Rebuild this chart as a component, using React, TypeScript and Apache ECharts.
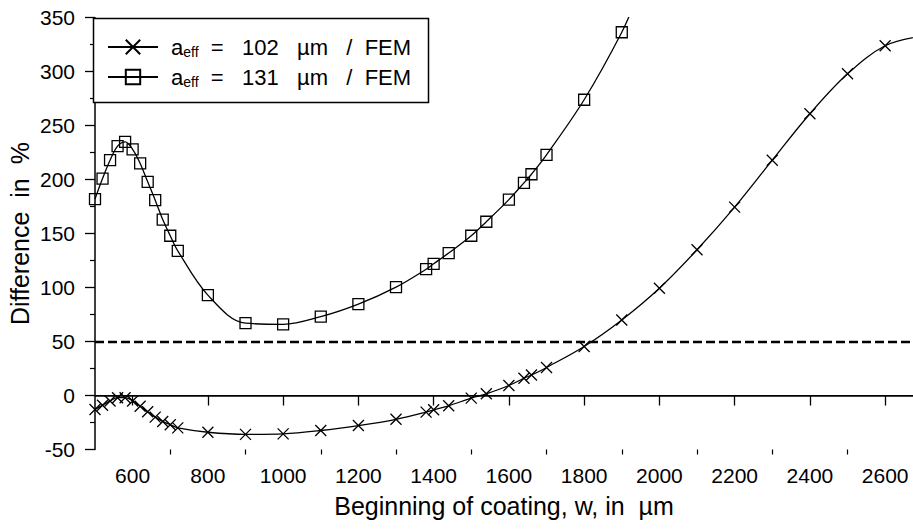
import React, { useEffect, useRef } from "react";
import * as echarts from "echarts";

// Beginning of coating w (µm) and the difference in % for each effective size
const w102 = [500, 520, 540, 560, 580, 600, 620, 640, 660, 680, 700, 720, 800, 900, 1000, 1100, 1200, 1300, 1380, 1400, 1440, 1500, 1540, 1600, 1640, 1660, 1700, 1800, 1900, 2000, 2100, 2200, 2300, 2400, 2500, 2600];
const diff102 = [-13, -9, -5, -2, -2, -5, -10, -15, -20, -24, -27, -30, -34, -36, -35.5, -32.4, -27.8, -22, -15.4, -13.2, -9.5, -2.4, 1.6, 9.3, 16, 19, 26, 45.4, 70, 99.4, 135, 174.5, 218, 261, 298, 324];

const w131 = [500, 520, 540, 560, 580, 600, 620, 640, 660, 680, 700, 720, 800, 900, 1000, 1100, 1200, 1300, 1380, 1400, 1440, 1500, 1540, 1600, 1640, 1660, 1700, 1800, 1900];
const diff131 = [182, 201, 218, 231, 235, 228, 215, 198, 181, 163, 148, 134, 93, 67, 66, 73, 84.6, 100.4, 117, 122, 132, 148, 161, 181.5, 197, 205, 223, 274, 336.5];

// where each fitted curve leaves the plot (drawn without a marker)
const tail102 = [2700, 333];
const tail131 = [1940, 369];

const sizes = ["102", "131"];
const thresholdLine = 50;
const zeroLine = 0;

const xMajorTicks = [600, 800, 1000, 1200, 1400, 1600, 1800, 2000, 2200, 2400, 2600];
const xMinorTicks = [700, 900, 1100, 1300, 1500, 1700, 1900, 2100, 2300, 2500];

const FONT = "'Liberation Sans', Arial, Helvetica, sans-serif";
const CROSS = "path://M0,0L10,10M10,0L0,10";

const seriesName = (s: string) => `a_eff = ${s} µm / FEM`;

function pairs(xs: number[], ys: number[]) {
  return xs.map((x, i) => [x, ys[i]]);
}

export default function App() {
  const ref = useRef<HTMLDivElement>(null);

  useEffect(() => {
    if (!ref.current) return;
    const chart = echarts.init(ref.current, undefined, { renderer: "svg" });

    const markerStyle = {
      color: "rgba(0,0,0,0)",
      borderColor: "#000",
      borderWidth: 1.3,
    };

    chart.setOption({
      animation: false,
      backgroundColor: "#fff",
      textStyle: { fontFamily: FONT, color: "#000" },
      grid: {
        left: 95,
        right: 0,
        top: 17.7,
        bottom: 79.5,
        containLabel: false,
        outerBoundsMode: "none",
      },
      xAxis: [
        {
          type: "value",
          min: 500,
          max: 2674,
          position: "bottom",
          name: "Beginning of coating, w, in  µm",
          nameLocation: "middle",
          nameGap: 44,
          nameMoveOverlap: false,
          nameTextStyle: { fontSize: 25, color: "#000", fontFamily: FONT },
          axisLine: { show: true, lineStyle: { color: "#000", width: 1.5 } },
          axisTick: { show: true, length: 10, lineStyle: { color: "#000", width: 1.3 }, customValues: xMajorTicks },
          axisLabel: {
            fontSize: 21,
            color: "#000",
            margin: 15,
            fontFamily: FONT,
            customValues: xMajorTicks,
            formatter: (v: number) => String(v),
          },
          splitLine: { show: false },
        },
        {
          type: "value",
          min: 500,
          max: 2674,
          position: "bottom",
          axisLine: { show: false },
          axisTick: { show: true, length: 5, lineStyle: { color: "#000", width: 1.2 }, customValues: xMinorTicks },
          axisLabel: { show: false },
          splitLine: { show: false },
        },
      ],
      yAxis: {
        type: "value",
        min: -50,
        max: 350,
        interval: 50,
        name: "Difference  in  %",
        nameLocation: "middle",
        nameGap: 63,
        nameMoveOverlap: false,
        nameTextStyle: { fontSize: 25, color: "#000", fontFamily: FONT },
        axisLine: { show: true, lineStyle: { color: "#000", width: 1.5 } },
        axisTick: { show: true, length: 10, lineStyle: { color: "#000", width: 1.3 } },
        minorTick: { show: true, splitNumber: 2, length: 5, lineStyle: { color: "#000", width: 1.2 } },
        axisLabel: { fontSize: 21, color: "#000", margin: 20, fontFamily: FONT, formatter: (v: number) => String(v) },
        splitLine: { show: false },
      },
      legend: {
        orient: "vertical",
        left: 107,
        top: 36,
        itemWidth: 50,
        itemHeight: 18,
        itemGap: 7,
        padding: 0,
        data: sizes.map(seriesName),
        formatter: (name: string) => {
          const size = name.match(/(\d+)/)?.[1] ?? "";
          return `{a|a}{s|eff}{t|  =   ${size}   µm   /  FEM}`;
        },
        textStyle: {
          fontFamily: FONT,
          color: "#000",
          rich: {
            a: { fontSize: 22, lineHeight: 24, padding: [0, 0, 0, 8], fontFamily: FONT, color: "#000" },
            s: { fontSize: 14, lineHeight: 8, verticalAlign: "bottom", fontFamily: FONT, color: "#000" },
            t: { fontSize: 22, lineHeight: 24, fontFamily: FONT, color: "#000" },
          },
        },
      },
      graphic: [
        {
          type: "rect",
          z: 1,
          shape: { x: 93.5, y: 18.5, width: 335, height: 84 },
          style: { fill: "#fff", stroke: "#000", lineWidth: 1.5 },
        },
      ],
      series: [
        {
          name: seriesName(sizes[0]),
          type: "line",
          smooth: 0.35,
          symbol: CROSS,
          symbolSize: 11,
          showAllSymbol: true,
          z: 5,
          lineStyle: { color: "#000", width: 1.3 },
          itemStyle: markerStyle,
          data: [
            ...pairs(w102, diff102),
            { value: tail102, symbol: "none" },
          ],
          markLine: {
            silent: true,
            symbol: "none",
            label: { show: false },
            data: [
              { yAxis: zeroLine, lineStyle: { color: "#000", width: 1.1, type: "solid" } },
              { yAxis: thresholdLine, lineStyle: { color: "#000", width: 2.4, type: [9, 4] } },
            ],
          },
        },
        {
          name: seriesName(sizes[1]),
          type: "line",
          smooth: 0.35,
          symbol: "rect",
          symbolSize: 11,
          showAllSymbol: true,
          z: 5,
          lineStyle: { color: "#000", width: 1.3 },
          itemStyle: markerStyle,
          data: [
            ...pairs(w131, diff131),
            { value: tail131, symbol: "none" },
          ],
        },
      ],
    });

    return () => chart.dispose();
  }, []);

  return (
    <div
      ref={ref}
      style={{ position: "absolute", left: 0, top: 0, width: 913, height: 529 }}
    />
  );
}
